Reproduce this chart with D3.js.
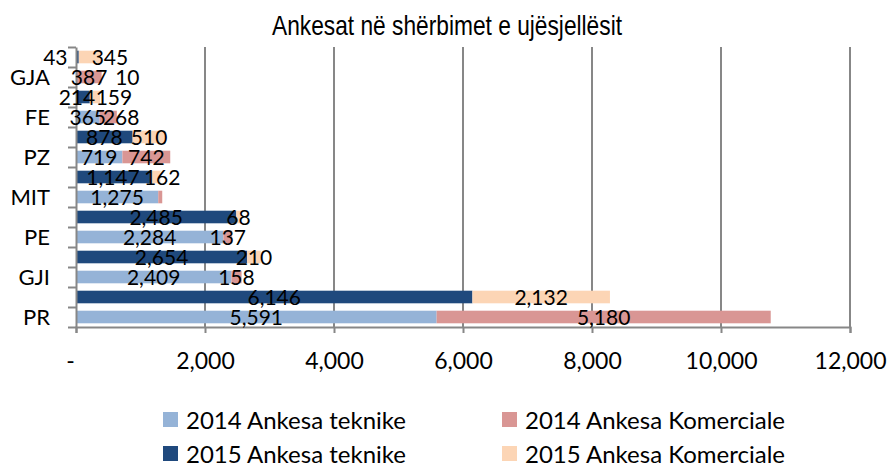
<!DOCTYPE html>
<html>
<head>
<meta charset="utf-8">
<script src="https://cdn.jsdelivr.net/npm/d3@7"></script>
<style>
  body { margin: 0; background: #fff; }
  svg { display: block; }
</style>
</head>
<body>
<script>
// categories from bottom to top, one 2014 row and one 2015 row each
const categories = ["PR", "GJI", "PE", "MIT", "PZ", "FE", "GJA"];
const years = ["2014", "2015"];

const tek2014 = [5591, 2409, 2284, 1275, 719, 365, 10];
const kom2014 = [5180, 158, 137, 62, 742, 268, 387];
const tek2015 = [6146, 2654, 2485, 1147, 878, 214, 43];
const kom2015 = [2132, 210, 68, 162, 510, 159, 345];

const seriesNames = ["2014 Ankesa teknike", "2014 Ankesa Komerciale", "2015 Ankesa teknike", "2015 Ankesa Komerciale"];
const xTicks = [0, 2000, 4000, 6000, 8000, 10000, 12000];
const title = "Ankesat në shërbimet e ujësjellësit";

// styling / layout
const colors = ["#95B3D7", "#D99694", "#1F497D", "#FCD5B5"];
const gridColor = "#878787";
const bodyFont = "Lato, 'Open Sans', sans-serif";
const plot = { left: 76, right: 850, top: 47, bottom: 327 };

// labels that were hand-moved in the original chart (px)
const labelNudge = {
  "GJA|2015|0": -22, "GJA|2015|1": 20, "GJA|2014|0": 51,
  "FE|2015|0": -6, "FE|2015|1": 19, "FE|2014|1": 13,
  "MIT|2015|1": 7
};
const hiddenLabels = ["MIT|2014|1"];

const svg = d3.select("body").append("svg")
  .attr("width", 888)
  .attr("height", 465);

const rows = [];
categories.forEach(function(c) {
  years.forEach(function(yr) { rows.push(c + "|" + yr); });
});

const x = d3.scaleLinear().domain([0, 12000]).range([plot.left, plot.right]);
const y = d3.scaleBand().domain(rows).range([plot.bottom, plot.top])
  .paddingInner(0.37).paddingOuter(0.185);
const fmt = d3.format(",");

// title
svg.append("text")
  .attr("x", 447).attr("y", 35)
  .attr("text-anchor", "middle")
  .attr("font-family", "'Liberation Sans Narrow', 'Liberation Sans', Arial, sans-serif")
  .attr("font-size", 28)
  .attr("textLength", 350)
  .attr("lengthAdjust", "spacingAndGlyphs")
  .attr("fill", "#000")
  .text(title);

// vertical gridlines
svg.selectAll("line.grid").data(xTicks.slice(1)).join("line")
  .attr("class", "grid")
  .attr("x1", d => x(d)).attr("x2", d => x(d))
  .attr("y1", plot.top).attr("y2", plot.bottom)
  .attr("stroke", gridColor).attr("stroke-width", 2);

// bar segments
const segments = [];
categories.forEach(function(c, i) {
  const parts = {
    "2014": [tek2014[i], kom2014[i]],
    "2015": [tek2015[i], kom2015[i]]
  };
  years.forEach(function(yr, yi) {
    let start = 0;
    parts[yr].forEach(function(v, pi) {
      segments.push({
        key: c + "|" + yr + "|" + pi,
        row: c + "|" + yr,
        x0: start, x1: start + v, value: v,
        color: colors[yi * 2 + pi]
      });
      start += v;
    });
  });
});

svg.selectAll("rect.bar").data(segments).join("rect")
  .attr("class", "bar")
  .attr("x", d => x(d.x0))
  .attr("width", d => x(d.x1) - x(d.x0))
  .attr("y", d => y(d.row))
  .attr("height", y.bandwidth())
  .attr("fill", d => d.color);

// axes
const xAxis = svg.append("g")
  .attr("transform", `translate(0,${plot.bottom})`)
  .call(d3.axisBottom(x).tickValues(xTicks).tickSize(6).tickPadding(20)
    .tickFormat(d => d === 0 ? "-" : fmt(d)));
xAxis.selectAll("path, line").attr("stroke", gridColor).attr("stroke-width", 2);
xAxis.selectAll("text")
  .attr("font-family", bodyFont).attr("font-size", 23).attr("fill", "#000")
  .attr("dx", d => d === 0 ? -6 : 0);

const rowScale = d3.scaleLinear().domain([0, rows.length]).range([plot.bottom, plot.top]);
const yAxis = svg.append("g")
  .attr("transform", `translate(${plot.left},0)`)
  .call(d3.axisLeft(rowScale).tickValues(d3.range(rows.length + 1)).tickSize(8).tickSizeOuter(0).tickFormat(""));
yAxis.selectAll("path, line").attr("stroke", gridColor).attr("stroke-width", 2);

// category labels on the 2014 rows
svg.selectAll("text.cat").data(categories).join("text")
  .attr("class", "cat")
  .attr("x", 50)
  .attr("y", d => y(d + "|2014") + y.bandwidth() / 2)
  .attr("dy", "0.36em")
  .attr("text-anchor", "end")
  .attr("font-family", bodyFont).attr("font-size", 22)
  .attr("fill", "#000")
  .text(d => d);

// data labels
svg.selectAll("text.lbl").data(segments.filter(d => hiddenLabels.indexOf(d.key) < 0)).join("text")
  .attr("class", "lbl")
  .attr("x", d => (x(d.x0) + x(d.x1)) / 2 + (labelNudge[d.key] || 0))
  .attr("y", d => y(d.row) + y.bandwidth() / 2)
  .attr("dy", "0.38em")
  .attr("text-anchor", "middle")
  .attr("font-family", bodyFont).attr("font-size", 21)
  .attr("fill", "#000")
  .text(d => fmt(d.value));

// legend, 2 x 2
const legendPos = [[163, 412], [502, 412], [163, 446], [502, 446]];
const legend = svg.selectAll("g.legend").data(seriesNames).join("g")
  .attr("class", "legend")
  .attr("transform", (d, i) => `translate(${legendPos[i][0]},${legendPos[i][1]})`);
legend.append("rect")
  .attr("width", 15).attr("height", 15)
  .attr("fill", (d, i) => colors[i]);
legend.append("text")
  .attr("x", 23).attr("y", 8).attr("dy", "0.36em")
  .attr("font-family", bodyFont).attr("font-size", 24)
  .attr("fill", "#000")
  .text(d => d);
</script>
</body>
</html>
